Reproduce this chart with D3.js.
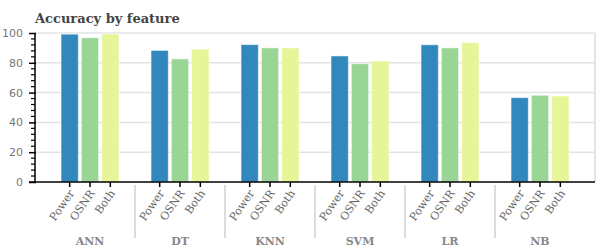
<!DOCTYPE html>
<html lang="en">
<head>
<meta charset="utf-8">
<title>Accuracy by feature</title>
<script src="https://d3js.org/d3.v7.min.js"></script>
<style>
  body, html { margin: 0; background: #fff; }
  svg { display: block; }
</style>
</head>
<body>
<svg width="600" height="250"></svg>
<script>
// data
var models = ["ANN", "DT", "KNN", "SVM", "LR", "NB"];
var features = ["Power", "OSNR", "Both"];
var power = [99.2, 88.3, 92.2, 84.6, 92.1, 56.6];
var osnr = [96.8, 82.6, 90.0, 79.4, 90.0, 58.2];
var both = [99.4, 89.2, 90.0, 81.2, 93.5, 57.7];
var colors = ["#3288bd", "#99d594", "#e6f598"];
var yTicks = [0, 20, 40, 60, 80, 100];

var svg = d3.select("svg");
var plotL = 35, plotR = 595, plotT = 33, plotB = 182;

var x0 = d3.scaleBand().domain(models).range([45, 585]);
var x1 = d3.scaleBand().domain(features).range([0, x0.bandwidth()])
  .paddingInner(0.15).paddingOuter(0.79);
var y = d3.scaleLinear().domain([0, 100]).range([plotB, plotT]);
var color = d3.scaleOrdinal().domain(features).range(colors);

var rows = models.map(function(m, i) {
  return {model: m, values: [power[i], osnr[i], both[i]]};
});

// title
svg.append("text")
  .attr("x", plotL).attr("y", 23)
  .style("font-family", "DejaVu Serif")
  .style("font-weight", "bold")
  .style("font-size", "13px")
  .style("fill", "#444")
  .text("Accuracy by feature");

// grid
svg.append("g").selectAll("line")
  .data(yTicks.filter(function(d) { return d > 0; }))
  .enter().append("line")
  .attr("x1", plotL).attr("x2", plotR)
  .attr("y1", function(d) { return y(d); })
  .attr("y2", function(d) { return y(d); })
  .style("stroke", "#e3e3e3").style("stroke-width", 1.5);
svg.append("line")
  .attr("x1", plotR).attr("x2", plotR).attr("y1", plotT).attr("y2", plotB)
  .style("stroke", "#ddd").style("stroke-width", 1.5);

// bars
var groups = svg.append("g").selectAll("g")
  .data(rows).enter().append("g")
  .attr("transform", function(d) { return "translate(" + x0(d.model) + ",0)"; });
groups.selectAll("rect")
  .data(function(d) { return d.values.map(function(v, j) { return {key: features[j], value: v}; }); })
  .enter().append("rect")
  .attr("x", function(d) { return x1(d.key); })
  .attr("width", x1.bandwidth())
  .attr("y", function(d) { return y(d.value); })
  .attr("height", function(d) { return plotB - y(d.value); })
  .style("fill", function(d) { return color(d.key); })
  .style("stroke", "#fff").style("stroke-opacity", 0.5).style("stroke-width", 1);

// y axis
var yAxis = d3.axisLeft(y).tickValues(yTicks).tickSize(6).tickPadding(6);
var gy = svg.append("g").attr("transform", "translate(" + plotL + ",0)").call(yAxis);
gy.select(".domain").remove();
gy.selectAll(".tick line").attr("x2", -6).attr("x1", 1).style("stroke", "#000").style("stroke-width", 1.5);
gy.selectAll(".tick text")
  .style("font-family", "DejaVu Sans").style("font-size", "11px").style("fill", "#777");
var minor = d3.range(0, 101, 4).filter(function(d) { return d % 20 !== 0; });
gy.append("g").selectAll("line").data(minor).enter().append("line")
  .attr("x1", -4).attr("x2", 0)
  .attr("y1", function(d) { return y(d); }).attr("y2", function(d) { return y(d); })
  .style("stroke", "#000").style("stroke-width", 1.2);
gy.append("line").attr("x1", 0).attr("x2", 0).attr("y1", plotT).attr("y2", plotB)
  .style("stroke", "#000").style("stroke-width", 1.5);

// x axis
svg.append("line").attr("x1", plotL - 6).attr("x2", plotR).attr("y1", plotB).attr("y2", plotB)
  .style("stroke", "#000").style("stroke-width", 1.5);
var ticks = groups.selectAll(".xt")
  .data(features).enter().append("g")
  .attr("class", "xt")
  .attr("transform", function(f) { return "translate(" + (x1(f) + x1.bandwidth() / 2) + "," + plotB + ")"; });
ticks.append("line").attr("y1", 0).attr("y2", 5).style("stroke", "#000").style("stroke-width", 1.5);
ticks.append("text")
  .attr("transform", "translate(2,9) rotate(-55)")
  .attr("text-anchor", "end")
  .attr("dy", "0.35em")
  .style("font-family", "DejaVu Serif").style("font-size", "11px").style("fill", "#666")
  .text(function(f) { return f; });

// group separators and labels
svg.append("g").selectAll("line")
  .data(models.slice(1)).enter().append("line")
  .attr("x1", function(m) { return x0(m); }).attr("x2", function(m) { return x0(m); })
  .attr("y1", 185).attr("y2", 238)
  .style("stroke", "#ddd").style("stroke-width", 2);
svg.append("g").selectAll("text")
  .data(models).enter().append("text")
  .attr("x", function(m) { return x0(m) + x0.bandwidth() / 2; })
  .attr("y", 245)
  .attr("text-anchor", "middle")
  .style("font-family", "DejaVu Serif").style("font-weight", "bold")
  .style("font-size", "11px").style("fill", "#888")
  .text(function(m) { return m; });
</script>
</body>
</html>
